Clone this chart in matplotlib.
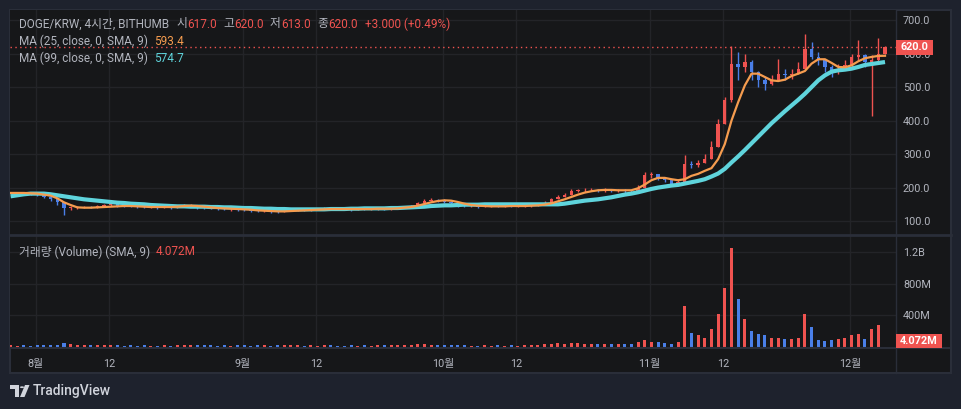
import matplotlib
matplotlib.use("Agg")
import matplotlib.pyplot as plt
import matplotlib.dates as mdates
import numpy as np
import pandas as pd
from matplotlib.patches import Rectangle, Polygon, Circle
from matplotlib.lines import Line2D

# ---- data (daily view of the 4h DOGE/KRW chart) ----
first_day = "2024-07-28 06:00"

close = [184, 184, 183, 182, 178, 172, 165, 156, 140, 140,
         141, 142, 141, 144, 148, 150, 146, 145, 144, 143,
         141, 141, 140, 141, 140, 142, 146, 148, 140, 139,
         138, 136, 135, 135, 134, 133, 131, 130, 131, 129,
         128, 130, 133, 134, 133, 134, 135, 138, 137, 136,
         135, 134, 136, 135, 136, 137, 136, 137, 139, 141,
         145, 153, 160, 164, 163, 158, 153, 146, 144, 144,
         143, 144, 145, 144, 145, 144, 145, 145, 146, 148,
         155, 165, 172, 178, 190, 192, 193, 194, 192, 193,
         191, 192, 190, 189, 200, 238, 240, 230, 222, 212,
         218, 270, 268, 272, 285, 320, 390, 460, 570, 560,
         575, 545, 520, 510, 520, 540, 535, 540, 555, 615,
         590, 580, 560, 545, 555, 565, 590, 595, 575, 580,
         600, 620]

high = [187, 187, 186, 185, 183, 180, 174, 167, 158, 145,
        145, 146, 145, 147, 151, 153, 150, 148, 147, 146,
        144, 144, 143, 144, 143, 145, 150, 152, 148, 142,
        141, 139, 138, 138, 137, 136, 134, 133, 134, 132,
        131, 133, 136, 137, 136, 137, 138, 142, 140, 139,
        138, 137, 139, 138, 139, 140, 139, 140, 142, 144,
        149, 157, 166, 168, 167, 165, 160, 155, 148, 147,
        146, 147, 148, 147, 148, 147, 148, 148, 149, 152,
        160, 170, 178, 183, 196, 197, 198, 199, 197, 198,
        196, 197, 195, 194, 208, 246, 248, 242, 232, 224,
        225, 296, 280, 282, 300, 340, 405, 470, 624, 605,
        600, 580, 548, 530, 535, 584, 555, 555, 575, 658,
        635, 605, 585, 565, 570, 580, 598, 640, 600, 595,
        645, 622]

low = [181, 181, 180, 179, 175, 169, 160, 148, 118, 134,
       137, 139, 138, 140, 143, 146, 143, 142, 141, 140,
       138, 138, 137, 138, 137, 139, 141, 144, 137, 136,
       135, 133, 132, 131, 130, 129, 127, 126, 127, 125,
       124, 127, 129, 131, 130, 131, 132, 134, 134, 133,
       132, 131, 133, 132, 133, 134, 133, 134, 136, 138,
       141, 147, 155, 159, 158, 154, 149, 142, 141, 141,
       140, 141, 142, 141, 142, 141, 142, 142, 143, 145,
       150, 158, 166, 172, 182, 187, 188, 189, 187, 188,
       186, 187, 185, 184, 186, 198, 230, 224, 216, 206,
       208, 215, 258, 262, 275, 295, 330, 400, 455, 520,
       545, 520, 500, 490, 505, 520, 520, 525, 540, 550,
       585, 565, 545, 530, 540, 550, 560, 580, 560, 415,
       575, 598]

# volume in millions
volume = [25, 20, 22, 20, 25, 22, 25, 30, 55, 40,
          30, 25, 22, 25, 28, 25, 22, 20, 22, 20,
          22, 20, 20, 22, 20, 25, 30, 28, 30, 25,
          22, 20, 22, 20, 25, 22, 20, 22, 25, 20,
          22, 25, 28, 22, 20, 22, 20, 25, 22, 20,
          20, 22, 20, 22, 20, 22, 25, 22, 25, 28,
          30, 35, 38, 30, 28, 30, 28, 25, 22, 20,
          20, 22, 20, 22, 20, 22, 20, 22, 25, 28,
          35, 45, 50, 45, 55, 50, 45, 40, 40, 45,
          40, 45, 40, 45, 60, 95, 70, 60, 50, 45,
          60, 520, 180, 150, 120, 230, 420, 750, 1250, 600,
          350, 200, 160, 150, 120, 110, 100, 100, 120, 420,
          250, 90, 80, 90, 100, 110, 150, 160, 100, 230,
          280, 4.072]

ma25 = [184, 184, 184, 183, 182, 179, 176, 168, 156, 148,
        141, 140, 140, 141, 142, 143, 144, 145, 145, 144,
        143, 142, 142, 142, 142, 143, 145, 146, 145, 143,
        141, 139, 138, 137, 136, 135, 134, 132, 131, 130,
        129, 129, 130, 131, 132, 133, 134, 135, 136, 136,
        136, 136, 136, 136, 136, 137, 137, 137, 138, 140,
        142, 146, 151, 156, 160, 162, 161, 157, 152, 148,
        146, 145, 144, 144, 144, 145, 145, 145, 146, 147,
        149, 153, 159, 165, 172, 179, 185, 189, 192, 193,
        193, 192, 192, 192, 198, 209, 222, 229, 229, 225,
        222, 225, 235, 241, 250, 258, 285, 330, 400, 455,
        505, 540, 540, 530, 520, 518, 522, 533, 540, 548,
        570, 583, 583, 572, 560, 559, 565, 577, 586, 590,
        593, 593.4]

ma99 = [174, 177, 180, 182, 182, 182, 180, 177, 174, 171,
        168, 165, 163, 161, 159, 157, 155, 154, 152, 151,
        150, 148, 147, 146, 145, 144, 144, 143, 143, 143,
        142, 142, 141, 141, 140, 139, 139, 138, 137, 137,
        136, 136, 135, 135, 135, 135, 135, 135, 136, 136,
        136, 137, 137, 138, 138, 138, 138, 139, 139, 140,
        141, 142, 143, 145, 146, 147, 147, 148, 149, 149,
        149, 150, 150, 150, 150, 150, 150, 150, 150, 150,
        150, 150, 150, 152, 155, 158, 161, 163, 165, 168,
        171, 175, 179, 182, 186, 191, 196, 200, 203, 206,
        208, 212, 216, 220, 225, 233, 242, 256, 275, 293,
        312, 332, 352, 372, 392, 410, 428, 445, 462, 480,
        500, 520, 535, 546, 550, 552, 555, 560, 566, 569,
        572, 574.7]

price_ticks = [100, 200, 300, 400, 500, 600, 700]
vol_ticks = [400, 800, 1200]
vol_tick_labels = ["400M", "800M", "1.2B"]
time_ticks = ["2024-08-01", "2024-08-12", "2024-09-01", "2024-09-12", "2024-10-01",
              "2024-10-12", "2024-11-01", "2024-11-12", "2024-12-01"]
time_tick_labels = ["8월", "12", "9월", "12", "10월", "12", "11월", "12", "12월"]

last_price = 620.0
last_volume = 4.072

# ---- style ----
W, H = 962, 409
BG = "#1e222d"
PANE = "#161719"
BORDER = "#2a2e39"
GRID = "#232428"
TXT = "#b2b5be"
UP = "#ef5350"     # red = up (korean style)
DOWN = "#4a7fe8"   # blue = down
ORANGE = "#f59c4f"
CYAN = "#5fd4dc"
FONT = ["Roboto", "Noto Sans CJK KR", "DejaVu Sans"]
plt.rcParams["font.family"] = FONT

n = len(close)
dates = pd.date_range(first_day, periods=n, freq="D")
x = mdates.date2num(dates)
opn = np.array([183] + close[:-1], dtype=float)
cls = np.array(close, dtype=float)
hi = np.maximum(np.array(high, float), np.maximum(opn, cls))
lo = np.minimum(np.array(low, float), np.minimum(opn, cls))
cols = [UP if c >= o else DOWN for o, c in zip(opn, cls)]

def fx(px):
    return px / W

def fy(py):
    return 1 - py / H

fig = plt.figure(figsize=(W / 100, H / 100), dpi=100, facecolor=BG)

# chart panel background + border (behind the axes)
fig.patches.append(Rectangle((fx(10), fy(373)), (951 - 10) / W, (373 - 10) / H,
                             transform=fig.transFigure, facecolor=PANE,
                             edgecolor=BORDER, lw=1.5, zorder=-5))

ax = fig.add_axes([fx(10), fy(235), (896 - 10) / W, (235 - 10) / H])
axv = fig.add_axes([fx(10), fy(348), (896 - 10) / W, (348 - 235) / H], sharex=ax)

xl = mdates.date2num(pd.Timestamp("2024-07-28 03:50"))
xr = mdates.date2num(pd.Timestamp("2024-12-07 21:30"))

for a in (ax, axv):
    a.set_facecolor(PANE)
    for s in a.spines.values():
        s.set_visible(False)
    a.set_xlim(xl, xr)
    a.set_xticks(mdates.date2num(pd.to_datetime(time_ticks)))
    a.grid(True, color=GRID, lw=1)
    a.set_axisbelow(True)
    a.yaxis.tick_right()
    a.tick_params(axis="y", length=0, pad=5, labelsize=7.8, labelcolor=TXT)
    a.tick_params(axis="x", length=0)

# candles
wid = 0.5
ax.vlines(x, lo, hi, colors=cols, lw=1, zorder=3)
ax.bar(x, np.maximum(np.abs(cls - opn), 0.8), bottom=np.minimum(opn, cls),
       width=wid, color=cols, lw=0, zorder=3)
ax.plot(x, ma99, color=CYAN, lw=3, zorder=4, solid_capstyle="butt")
ax.plot(x, ma25, color=ORANGE, lw=1.6, zorder=5)
ax.axhline(last_price, color=UP, lw=1, ls=(0, (1, 2.5)), zorder=6)
ax.set_ylim(58.5, 730)
ax.set_yticks(price_ticks)
ax.set_yticklabels(["%.1f" % v for v in price_ticks])
ax.tick_params(axis="x", labelbottom=False)

# volume
axv.bar(x, volume, width=0.45, color=cols, lw=0, zorder=3)
axv.set_ylim(-10, 1410)
axv.set_yticks(vol_ticks)
axv.set_yticklabels(vol_tick_labels)
axv.set_xticklabels(time_tick_labels)
axv.tick_params(axis="x", pad=8, labelsize=7.8, labelcolor=TXT)

# separators
fig.add_artist(Line2D([fx(10), fx(951)], [fy(235), fy(235)], color=BORDER, lw=2))
fig.add_artist(Line2D([fx(10), fx(951)], [fy(348), fy(348)], color=BORDER, lw=1.5))
fig.add_artist(Line2D([fx(896), fx(896)], [fy(10), fy(373)], color=BORDER, lw=1))

# price badges on the right axis (the 620 badge covers the 600.0 label, as in the original)
fig.patches.append(Rectangle((fx(896), fy(54.5)), 37 / W, 14 / H, transform=fig.transFigure,
                             facecolor=UP, lw=0, zorder=5))
fig.text(fx(914.5), fy(47.5), "%.1f" % last_price, color="white", fontsize=7.8,
         fontweight="bold", ha="center", va="center", zorder=6)
fig.patches.append(Rectangle((fx(896), fy(347.5)), 46 / W, 14 / H, transform=fig.transFigure,
                             facecolor=UP, lw=0, zorder=5))
fig.text(fx(919), fy(340.5), "%.3fM" % last_volume, color="white", fontsize=7.8,
         fontweight="bold", ha="center", va="center", zorder=6)

# legend texts, each piece placed after the previous one
renderer = fig.canvas.get_renderer()

def legend_line(py, parts, px=19, size=8.5):
    for gap, s, c in parts:
        px += gap
        t = fig.text(fx(px), fy(py), s, color=c, fontsize=size, ha="left", va="center")
        px += t.get_window_extent(renderer).width

legend_line(24, [(0, "DOGE/KRW, 4시간, BITHUMB", TXT), (7, "시", TXT), (0.5, "617.0", UP),
                 (6, "고", TXT), (0.5, "620.0", UP), (6, "저", TXT), (0.5, "613.0", UP),
                 (6, "종", TXT), (0.5, "620.0", UP), (7, "+3.000 (+0.49%)", UP)])
legend_line(41.5, [(0, "MA (25, close, 0, SMA, 9)", TXT), (6, "593.4", ORANGE)])
legend_line(58, [(0, "MA (99, close, 0, SMA, 9)", TXT), (6, "574.7", CYAN)])
legend_line(252, [(0, "거래량 (Volume) (SMA, 9)", TXT), (6, "4.072M", UP)])

# TradingView logo
LOGO = "#d1d4dc"
fig.patches.append(Polygon([(fx(10), fy(385)), (fx(19), fy(385)), (fx(19), fy(397)),
                            (fx(15), fy(397)), (fx(15), fy(389)), (fx(10), fy(389))],
                           closed=True, transform=fig.transFigure, facecolor=LOGO, lw=0))
fig.patches.append(Circle((fx(22), fy(387.2)), 2.1 / W, transform=fig.transFigure,
                          facecolor=LOGO, lw=0))
fig.patches.append(Polygon([(fx(25), fy(385)), (fx(29.5), fy(385)), (fx(24.5), fy(397)),
                            (fx(20), fy(397))],
                           closed=True, transform=fig.transFigure, facecolor=LOGO, lw=0))
fig.text(fx(33), fy(391), "TradingView", color=LOGO, fontsize=10, fontweight="medium",
         ha="left", va="center")

fig.savefig("out.png", dpi=100, facecolor=BG)
